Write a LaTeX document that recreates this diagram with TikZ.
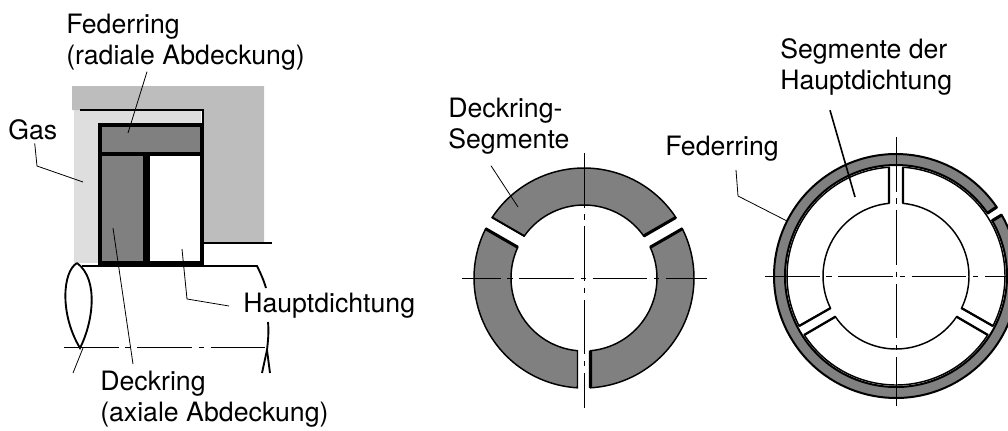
\documentclass[tikz,border=0pt]{standalone}
\usepackage{fontspec}
\setmainfont{TeX Gyre Heros}
\tikzset{
  lbl/.style={inner sep=0pt,align=left,font=\fontsize{20}{23.2}\selectfont},
  leader/.style={line width=0.6pt},
  heavy/.style={line width=2.3pt},
  gapside/.style={line width=1.7pt},
  outline/.style={line width=1.4pt},
  centerline/.style={line width=0.6pt,dash pattern=on 41pt off 5pt on 4pt off 5pt},
  segfill/.style={fill=segGray,draw=black,line width=1.1pt},
}
\definecolor{segGray}{gray}{0.5}
\definecolor{housing}{gray}{0.74}
\definecolor{gasGray}{gray}{0.87}
\begin{document}
\begin{tikzpicture}[x=0.75pt,y=-0.75pt]
	\useasboundingbox (0,0) rectangle (1008,430);
	\clip (0,0) rectangle (1008,430);

	% labels
	\node (lblFeder)[lbl,anchor=north west] at (66,14) {Federring\\(radiale Abdeckung)};
	\node (lblGas)[lbl,anchor=west] at (8,130) {Gas};
	\node (lblHaupt)[lbl,anchor=west] at (243,306) {Hauptdichtung};
	\node (lblDeck)[lbl,anchor=north west] at (100,371) {Deckring\\(axiale Abdeckung)};
	\node (lblDeckSeg)[lbl,anchor=north west] at (448,98) {Deckring-\\Segmente};
	\node (lblFederR)[lbl,anchor=west] at (665,149) {Federring};
	\node (lblSeg)[lbl,anchor=north west] at (780,38) {Segmente der\\Hauptdichtung};

	% housing and gas space
	\fill[gasGray] (74,110) rectangle (100,263);
	\fill[gasGray] (74,110) rectangle (201,125);
	\fill[housing] (72,86)--(264,86)--(264,242)--(203,242)--(203,110)--(72,110)--cycle;

	% seal chamber
	\draw[heavy,fill=segGray] (100,125) rectangle (202,154);
	\draw[heavy,fill=segGray] (100,154) rectangle (147,263);
	\draw[heavy,fill=white] (147,154) rectangle (202,263);
	\draw[line width=5pt] (146.5,156)--(146.5,261);
	\draw[outline] (80,110)--(203,110)--(203,125);
	\draw[outline] (203,243)--(272,243);

	% shaft
	\coordinate (shaftL) at (77,263);
	\coordinate (shaftB) at (80,348);
	\draw[outline] (82,266)--(257,266)..controls (261,274) and (264,281)..(266,288);
	\draw[outline] (268,322)..controls (269,332) and (268,341)..(267,350)--(262,373);
	\draw[outline] (267,350)--(270,373);
	\draw[outline] (shaftL)..controls (62,272) and (60,315)..(shaftB)
		..controls (92,325) and (100,280)..(shaftL);
	\draw[leader] (83,348)--(73,373);
	\draw[centerline] (64,347)--(267,347);

	% leader lines, left part
	\coordinate (gasBend) at (37,166);
	\coordinate (gasTip) at (83,182);
	\coordinate (federTip) at (128,133);
	\coordinate (deckTip) at (113,228);
	\coordinate (hauptBend) at (187,299);
	\coordinate (hauptTip) at (182,249);
	\draw[leader] (lblGas.south)++(2,3)--(gasBend)--(gasTip);
	\draw[leader] (lblFeder.south west)++(81,1)--(federTip);
	\draw[leader] (lblDeck.north west)++(33,-7)--(deckTip);
	\draw[leader] (lblHaupt.west)++(-14,0)--(hauptBend)--(hauptTip);

	% left ring, three cover segments
	\begin{scope}[shift={(584,278)},y=0.75pt]
		\foreach \a in {0,120,240}{
			\begin{scope}[rotate=\a]
				\draw[segfill] (33.4:110) arc[start angle=33.4,end angle=146.6,radius=110]
					--(144.9:73) arc[start angle=144.9,end angle=35.1,radius=73]--cycle;
				\draw[heavy] (33.4:110)--(35.1:73);
			\end{scope}
		}
		\draw[heavy] (26.6:110)--(24.9:73);
		\draw[outline] (146.6:110)--(144.9:73);
	\end{scope}
	\coordinate (deckSegTip) at (518,207);
	\draw[leader] (lblDeckSeg.south west)++(43,11)--(deckSegTip);
	\coordinate (ringAw) at (462,278);
	\coordinate (ringAe) at (707,278);
	\coordinate (ringAn) at (584,153);
	\coordinate (ringAs) at (584,408);
	\draw[centerline,dash phase=12pt] (ringAw)--(ringAe);
	\draw[centerline,dash phase=0pt] (ringAn)--(ringAs);

	% right ring, spring ring and main seal segments
	\begin{scope}[shift={(896,276)},y=0.75pt]
		\draw[segfill,line width=1.5pt] (34.4:122) arc[start angle=34.4,end angle=390,radius=122]
			--(389.9:111) arc[start angle=389.9,end angle=34.5,radius=111]--cycle;
		\draw[heavy] (34.4:122)--(34.5:111);
		\draw[heavy] (30:122)--(29.9:111);
		\foreach \sa/\ea/\si/\ei in {93.7/207.3/95.5/206.1,212.7/327.3/213.9/326.1,332.7/446.3/333.9/444.5}{
			\draw[line width=1.1pt,fill=white] (\sa:109) arc[start angle=\sa,end angle=\ea,radius=109]
				--(\ei:73) arc[start angle=\ei,end angle=\si,radius=73]--cycle;
			\draw[gapside] (\sa:109)--(\si:73);
			\draw[gapside] (\ea:109)--(\ei:73);
		}
	\end{scope}
	\coordinate (federTipR) at (787,221);
	\coordinate (federBendR) at (738,196);
	\draw[leader] (lblFederR.south west)++(71,8)--(federBendR)--(federTipR);
	\coordinate (segTip) at (855,197);
	\draw[line width=1.2pt] (lblSeg.south west)++(50,15)--(segTip);
	\coordinate (ringBw) at (765,276);
	\coordinate (ringBe) at (1008,276);
	\coordinate (ringBn) at (896,137);
	\coordinate (ringBs) at (896,406);
	\draw[centerline] (ringBw)--(ringBe);
	\draw[centerline] (ringBn)--(ringBs);
\end{tikzpicture}
\end{document}
